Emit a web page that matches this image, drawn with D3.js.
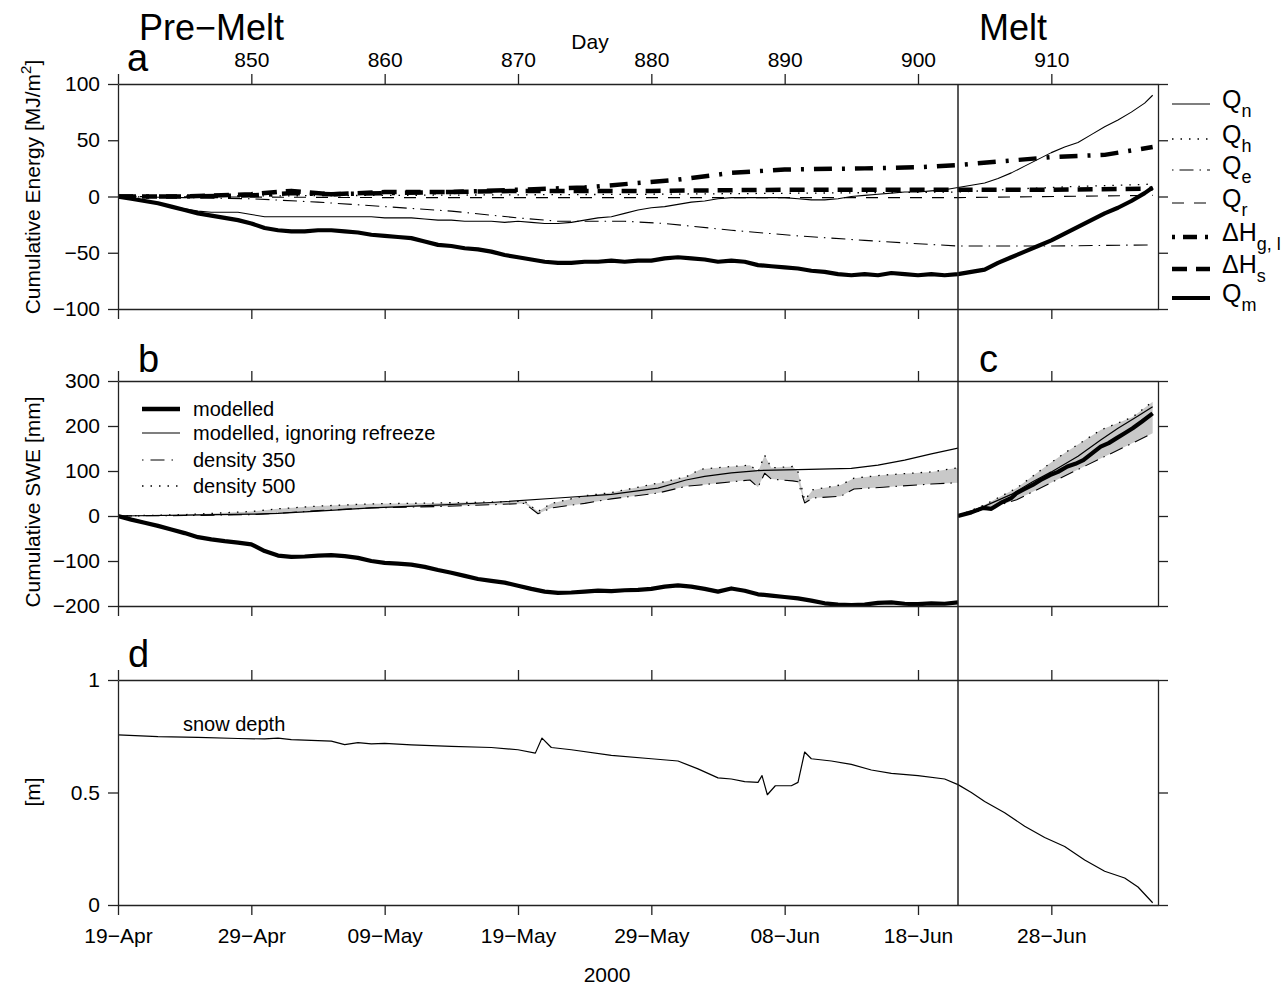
<!DOCTYPE html>
<html>
<head>
<meta charset="utf-8">
<script src="https://cdn.jsdelivr.net/npm/d3@7"></script>
<style>
  body { margin: 0; background: #fff; }
  text { font-family: "Liberation Sans", Arial, sans-serif; fill: #000; }
  .axis path, .axis line { stroke: #222; stroke-width: 1.3; }
  .axis text { font-family: "Liberation Sans", Arial, sans-serif; font-size: 21px; fill: #000; }
</style>
</head>
<body>
<svg id="chart" width="1287" height="985"></svg>
<script>
// day numbers and date labels
var dayTicks = [840, 850, 860, 870, 880, 890, 900, 910];
var dayLabels = ['', '850', '860', '870', '880', '890', '900', '910'];
var dateLabels = ['19\u2212Apr', '29\u2212Apr', '09\u2212May', '19\u2212May', '29\u2212May', '08\u2212Jun', '18\u2212Jun', '28\u2212Jun'];
var energyTicks = [-100, -50, 0, 50, 100];
var sweTicks = [-200, -100, 0, 100, 200, 300];
var depthTicks = [0, 0.5, 1];

// panel a: daily days 840..917 and last sample
var dailyDays = d3.range(840, 918).concat([917.6]);
var qm = [
  0, -2, -4, -6, -9, -12, -15, -17, -19, -21,
  -24, -28, -30, -31, -31, -30, -30, -31, -32, -34,
  -35, -36, -37, -40, -43, -44, -46, -47, -49, -52,
  -54, -56, -58, -59, -59, -58, -58, -57, -58, -57,
  -57, -55, -54, -55, -56, -58, -57, -58, -61, -62,
  -63, -64, -66, -67, -69, -70, -69, -70, -68, -69,
  -70, -69, -70, -69, -67, -65, -59, -54, -49, -44,
  -39, -33, -27, -21, -15, -10, -4, 3, 8];
var qn = [
  0, -2, -4, -6, -9, -11, -13, -14, -14, -14,
  -16, -18, -18, -18, -18, -18, -18, -18, -18, -18,
  -19, -19, -19, -20, -21, -21, -22, -22, -22, -23,
  -22, -23, -24, -24, -23, -21, -19, -18, -15, -12,
  -10, -9, -7, -5, -4, -2, -1, -1, -1, -1,
  -1, -2, -3, -3, -2, 0, 1, 2, 3, 4,
  4, 5, 6, 8, 10, 12, 16, 21, 27, 33,
  39, 44, 48, 55, 62, 68, 75, 83, 90];

var qeDays = [840, 845, 850, 855, 860, 865, 870, 873, 878, 881, 886, 891, 896, 900, 903, 910, 917.6];
var qe = [0, -1, -2, -5, -9, -13, -19, -22, -22, -24, -30, -35, -39, -42, -44, -44, -43];
var qhDays = [840, 860, 880, 903, 908, 912, 917.6];
var qh = [0, 1, 2, 4, 7, 9, 11];
var qrDays = [840, 860, 903, 917.6];
var qr = [0, -1, -1, 1];
var hglDays = [840, 845, 850, 853, 856, 860, 865, 870, 875, 878, 882, 886, 890, 896, 900, 903, 906, 910, 914, 917.6];
var hgl = [0, 0, 1, 3, 2, 3, 4, 6, 8, 11, 15, 21, 24, 25, 26, 28, 31, 35, 37, 44];
var hsDays = [840, 845, 850, 853, 856, 860, 865, 870, 880, 890, 903, 910, 917.6];
var hs = [0, 0, 2, 5, 2, 4, 4, 5, 5, 6, 6, 6, 7];

// panel b: pre-melt SWE
var preDays = d3.range(840, 904);
var modelledPre = [
  0, -8, -15, -22, -30, -38, -47, -52, -56, -59,
  -63, -78, -88, -91, -90, -88, -87, -89, -93, -100,
  -104, -106, -108, -113, -120, -126, -133, -140, -144, -148,
  -155, -162, -168, -171, -170, -168, -166, -167, -165, -164,
  -162, -157, -154, -157, -162, -168, -161, -166, -174, -177,
  -180, -183, -188, -194, -197, -198, -197, -193, -192, -195,
  -196, -194, -195, -192];
var ignoreDaysPre = [840, 845, 850, 852, 855, 859, 864, 868, 873, 877, 880.5, 882.6, 884, 886, 888, 891, 895, 897, 899, 901, 903];
var ignorePre = [0, 2, 4, 6, 11, 18, 24, 30, 40, 48, 62, 80, 88, 96, 101, 103, 106, 113, 124, 138, 151];
var densDaysPre = [840, 845, 850, 852, 855, 859, 864, 868, 870.5, 871.5, 872.5, 875, 877, 880.5, 882.6,
  883.7, 886, 887.4, 888, 888.5, 889, 890.6, 891, 891.5, 892.1, 894.2, 895.2, 897.4, 901, 903];
var dens500Pre = [0, 3, 10, 16, 22, 27, 29, 31, 33, 10, 28, 45, 52, 73, 87,
  104, 110, 113, 98, 135, 107, 110, 98, 35, 58, 69, 84, 91, 98, 107];
var dens350Pre = [0, 1, 3, 6, 12, 18, 21, 25, 28, 5, 18, 28, 38, 51, 66,
  69, 76, 80, 64, 95, 82, 78, 76, 29, 40, 44, 60, 64, 71, 74];

// panel c: melt SWE
var meltDays = [903, 904, 904.9, 905.5, 906.2, 907, 907.4, 908, 908.6, 909.2, 909.9, 910.5, 911.2, 911.8,
  912.4, 913, 913.7, 914.3, 914.9, 915.5, 916.1, 916.8, 917.6];
var modelledMelt = [0, 8, 18, 16, 29, 40, 51, 60, 69, 80, 91, 98, 110, 116,
  124, 138, 154, 162, 173, 184, 195, 210, 228];
var ignoreDaysMelt = [903, 905, 907, 908.6, 910, 912, 913.7, 915, 916.5, 917.6];
var ignoreMelt = [0, 22, 48, 76, 98, 133, 169, 195, 222, 243];
var densDaysMelt = [903, 905, 907.4, 909.9, 911, 913.7, 916.1, 917.6];
var dens500Melt = [0, 25, 62, 117, 140, 191, 220, 254];
var dens350Melt = [0, 14, 36, 73, 89, 128, 162, 184];

// panel d: snow depth
var depthDays = [840, 843, 846, 849, 851, 852, 853, 856, 857, 858, 859, 860, 862, 865, 868, 870, 871.3, 871.8,
  872.5, 874, 877, 880, 882, 883.5, 885, 886, 887, 888, 888.3, 888.7, 889.3, 890.5, 891, 891.5, 892,
  893.5, 895, 896.5, 898, 900, 902, 903, 904, 905, 906.5, 908, 909.5, 911, 912.5, 914, 915.5, 916.5, 917.6];
var depth = [0.756, 0.748, 0.745, 0.740, 0.738, 0.742, 0.735, 0.728, 0.713, 0.722, 0.716, 0.718, 0.712, 0.705,
  0.700, 0.690, 0.675, 0.742, 0.700, 0.690, 0.665, 0.650, 0.640, 0.605, 0.565, 0.560, 0.548, 0.545, 0.575,
  0.490, 0.530, 0.530, 0.545, 0.680, 0.650, 0.640, 0.625, 0.600, 0.585, 0.575, 0.560, 0.535, 0.500, 0.460,
  0.410, 0.350, 0.300, 0.260, 0.200, 0.150, 0.120, 0.080, 0.010];

var legendAMain = ['Q', 'Q', 'Q', 'Q', '\u0394H', '\u0394H', 'Q'];
var legendASub = ['n', 'h', 'e', 'r', 'g, l', 's', 'm'];
var legendB = ['modelled', 'modelled, ignoring refreeze', 'density 350', 'density 500'];

var svg = d3.select('#chart');
svg.append('rect').attr('width', 1287).attr('height', 985).attr('fill', '#fff');

var x = d3.scaleLinear().domain([840, 918]).range([118, 1158]);
var meltStart = 903;
var yA = d3.scaleLinear().domain([-100, 100]).range([309, 84]);
var yB = d3.scaleLinear().domain([-200, 300]).range([606, 381]);
var yD = d3.scaleLinear().domain([0, 1]).range([905, 680]);

var defs = svg.append('defs');
function clip(id, d0, d1, y) {
  var r = y.range();
  defs.append('clipPath').attr('id', id).append('rect')
    .attr('x', x(d0)).attr('y', r[1])
    .attr('width', x(d1) - x(d0)).attr('height', r[0] - r[1]);
}
clip('clipA', 840, 918, yA);
clip('clipB', 840, meltStart, yB);
clip('clipC', meltStart, 918, yB);
clip('clipD', 840, 918, yD);

function pairs(days, vals) {
  return days.map(function(d, i) { return [d, vals[i]]; });
}

function drawLine(clipId, days, vals, y, w, dash) {
  svg.append('path')
    .datum(pairs(days, vals))
    .attr('clip-path', 'url(#' + clipId + ')')
    .attr('fill', 'none')
    .attr('stroke', '#000')
    .attr('stroke-width', w)
    .attr('stroke-dasharray', dash || null)
    .attr('stroke-linejoin', 'round')
    .attr('d', d3.line().x(function(d) { return x(d[0]); }).y(function(d) { return y(d[1]); }));
}

function drawBand(clipId, days, lo, hi) {
  svg.append('path')
    .datum(days.map(function(d, i) { return [d, lo[i], hi[i]]; }))
    .attr('clip-path', 'url(#' + clipId + ')')
    .attr('fill', '#c8c8c8')
    .attr('d', d3.area()
      .x(function(d) { return x(d[0]); })
      .y0(function(d) { return yB(d[1]); })
      .y1(function(d) { return yB(d[2]); }));
}

// line styles: width, dash for plot, dash for legend
var styles = {
  qn: [1.1, null, null],
  qh: [1.3, '1.5,7', '1.5,7'],
  qe: [1.1, '14,6,1.5,6', '1.5,6,14,6'],
  qr: [1.1, '12,10', '12,10'],
  hgl: [4.5, '18,10,3,10', '3,8,14,8'],
  hs: [4.5, '15,9', '15,9'],
  qm: [4.2, null, null]
};

// ---- panel a
drawLine('clipA', qrDays, qr, yA, styles.qr[0], styles.qr[1]);
drawLine('clipA', qhDays, qh, yA, styles.qh[0], styles.qh[1]);
drawLine('clipA', qeDays, qe, yA, styles.qe[0], styles.qe[1]);
drawLine('clipA', dailyDays, qn, yA, styles.qn[0], styles.qn[1]);
drawLine('clipA', hsDays, hs, yA, styles.hs[0], styles.hs[1]);
drawLine('clipA', hglDays, hgl, yA, styles.hgl[0], styles.hgl[1]);
drawLine('clipA', dailyDays, qm, yA, styles.qm[0], styles.qm[1]);

// ---- panel b
drawBand('clipB', densDaysPre, dens350Pre, dens500Pre);
drawLine('clipB', densDaysPre, dens350Pre, yB, 1.1, '14,6,1.5,6');
drawLine('clipB', densDaysPre, dens500Pre, yB, 1.3, '1.5,7');
drawLine('clipB', ignoreDaysPre, ignorePre, yB, 1.2, null);
drawLine('clipB', preDays, modelledPre, yB, 4.2, null);

// ---- panel c
drawBand('clipC', densDaysMelt, dens350Melt, dens500Melt);
drawLine('clipC', densDaysMelt, dens350Melt, yB, 1.1, '14,6,1.5,6');
drawLine('clipC', densDaysMelt, dens500Melt, yB, 1.3, '1.5,7');
drawLine('clipC', ignoreDaysMelt, ignoreMelt, yB, 1.2, null);
drawLine('clipC', meltDays, modelledMelt, yB, 4.2, null);

// ---- panel d
drawLine('clipD', depthDays, depth, yD, 1.2, null);

// ---- axes
function axis(gen, tx, ty) {
  return svg.append('g').attr('class', 'axis')
    .attr('transform', 'translate(' + tx + ',' + ty + ')')
    .call(gen);
}
var fmt = d3.format('~g');
var noLabel = function() { return ''; };

// panel a
axis(d3.axisLeft(yA).tickValues(energyTicks).tickSize(10).tickSizeOuter(0).tickPadding(8).tickFormat(fmt), x(840), 0);
axis(d3.axisRight(yA).tickValues(energyTicks).tickSize(10).tickSizeOuter(0).tickFormat(noLabel), x(918), 0);
axis(d3.axisTop(x).tickValues(dayTicks).tickSize(10).tickSizeOuter(0).tickPadding(7)
  .tickFormat(function(d, i) { return dayLabels[i]; }), 0, yA(100));
axis(d3.axisBottom(x).tickValues(dayTicks).tickSize(10).tickSizeOuter(0).tickFormat(noLabel), 0, yA(-100));

// panels b and c
axis(d3.axisLeft(yB).tickValues(sweTicks).tickSize(10).tickSizeOuter(0).tickPadding(8).tickFormat(fmt), x(840), 0);
axis(d3.axisRight(yB).tickValues(sweTicks).tickSize(10).tickSizeOuter(0).tickFormat(noLabel), x(918), 0);
axis(d3.axisTop(x).tickValues(dayTicks).tickSize(10).tickSizeOuter(0).tickFormat(noLabel), 0, yB(300));
axis(d3.axisBottom(x).tickValues(dayTicks).tickSize(10).tickSizeOuter(0).tickFormat(noLabel), 0, yB(-200));

// panel d
axis(d3.axisLeft(yD).tickValues(depthTicks).tickSize(10).tickSizeOuter(0).tickPadding(8).tickFormat(fmt), x(840), 0);
axis(d3.axisRight(yD).tickValues(depthTicks).tickSize(10).tickSizeOuter(0).tickFormat(noLabel), x(918), 0);
axis(d3.axisTop(x).tickValues(dayTicks).tickSize(10).tickSizeOuter(0).tickFormat(noLabel), 0, yD(1));
axis(d3.axisBottom(x).tickValues(dayTicks).tickSize(10).tickSizeOuter(0).tickPadding(13)
  .tickFormat(function(d, i) { return dateLabels[i]; }), 0, yD(0));

// melt divider
svg.append('line')
  .attr('x1', x(meltStart)).attr('x2', x(meltStart))
  .attr('y1', yA(100)).attr('y2', yD(0))
  .attr('stroke', '#222').attr('stroke-width', 1.5);

// ---- titles and labels
function label(txt, px, py, size, anchor) {
  return svg.append('text').attr('x', px).attr('y', py)
    .attr('font-size', size).attr('text-anchor', anchor || 'start').text(txt);
}
label('Pre\u2212Melt', 139, 40, 36);
label('Melt', 979, 40, 36);
label('Day', 590, 49, 21, 'middle');
label('a', 127, 71, 38);
label('b', 138, 372, 38);
label('c', 979, 372, 38);
label('d', 128, 667, 38);
label('snow depth', 183, 731, 20);
label('2000', 607, 982, 21, 'middle');

var yt1 = svg.append('text').attr('transform', 'translate(40,187) rotate(-90)')
  .attr('font-size', 21).attr('text-anchor', 'middle');
yt1.append('tspan').text('Cumulative Energy [MJ/m');
yt1.append('tspan').attr('dy', -9).attr('font-size', 15).text('2');
yt1.append('tspan').attr('dy', 9).text(']');

svg.append('text').attr('transform', 'translate(40,502) rotate(-90)')
  .attr('font-size', 21).attr('text-anchor', 'middle').text('Cumulative SWE [mm]');
svg.append('text').attr('transform', 'translate(40,792) rotate(-90)')
  .attr('font-size', 21).attr('text-anchor', 'middle').text('[m]');

// ---- legend panel a
var legAStyles = [styles.qn, styles.qh, styles.qe, styles.qr, styles.hgl, styles.hs, styles.qm];
var legAY = [104, 139, 170, 203, 237, 269, 298];
legendAMain.forEach(function(m, i) {
  var ly = legAY[i];
  svg.append('line').attr('x1', 1172).attr('x2', 1210).attr('y1', ly).attr('y2', ly)
    .attr('stroke', '#000').attr('stroke-width', legAStyles[i][0])
    .attr('stroke-dasharray', legAStyles[i][2]);
  var t = svg.append('text').attr('x', 1222).attr('y', ly + 4).attr('font-size', 25);
  t.append('tspan').text(m);
  t.append('tspan').attr('dy', 9).attr('font-size', 18).text(legendASub[i]);
});

// ---- legend panel b
var legBY = [409, 433, 460, 486];
var legBW = [4.5, 1.2, 1.1, 1.3];
var legBDash = [null, null, '1.5,7,14,7', '1.5,7'];
legendB.forEach(function(txt, i) {
  svg.append('line').attr('x1', 142).attr('x2', 180).attr('y1', legBY[i]).attr('y2', legBY[i])
    .attr('stroke', '#000').attr('stroke-width', legBW[i]).attr('stroke-dasharray', legBDash[i]);
  label(txt, 193, legBY[i] + 7, 20);
});
</script>
</body>
</html>
